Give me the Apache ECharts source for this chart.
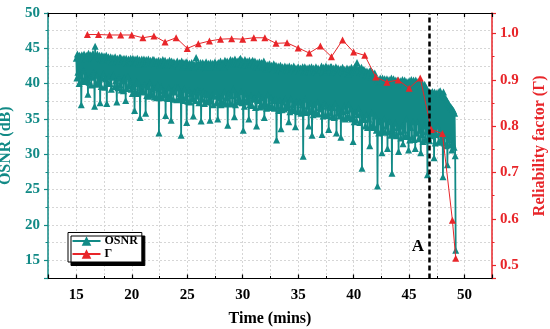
<!DOCTYPE html>
<html><head><meta charset="utf-8">
<script src="https://cdn.jsdelivr.net/npm/echarts@6/dist/echarts.min.js"></script>
<style>html,body{margin:0;padding:0;background:#fff}#c{width:550px;height:329px}</style>
</head><body><div id="c"></div>
<script>
// ---- data ----
const seriesNames = ['OSNR', 'Γ'];
const xTicks = [15, 20, 25, 30, 35, 40, 45, 50];
const osnrTicks = [15, 20, 25, 30, 35, 40, 45, 50];
const gammaTicks = [0.5, 0.6, 0.7, 0.8, 0.9, 1.0];
const markerTime = 46.8;          // dashed line "A"
const markerLabel = 'A';
const markerLabelPos = [45.8, 16.9];

// OSNR (dB): one reading every 0.05 min starting at 15.00 min (20 readings per row = 1 minute)
const osnrStartTime = 15.0;
const osnrSampleStep = 0.05;
const osnrValues = [
43.6,40.8,44.2,41.6,43.9,40.0,44.0,41.2,43.4,37.0,44.1,40.4,43.7,41.8,44.2,40.3,43.5,41.0,44.0,40.6,
43.9,38.5,44.3,40.2,43.6,41.0,44.1,39.8,43.8,40.9,44.3,41.5,43.5,36.8,45.3,40.0,43.9,41.2,44.2,39.9,
43.7,40.6,44.0,37.3,43.4,39.6,44.0,40.8,43.3,41.4,43.9,39.5,43.6,40.7,44.0,37.2,43.5,40.1,43.8,41.0,
43.4,40.0,43.8,39.2,43.1,40.9,43.7,41.2,43.5,39.6,43.8,40.4,43.2,37.4,43.6,39.4,43.0,40.8,43.7,39.8,
43.7,39.1,43.0,40.4,43.5,39.0,43.6,40.8,43.2,37.6,43.6,39.3,42.9,41.0,43.5,39.7,43.1,40.2,43.6,39.2,
43.2,38.6,43.6,39.6,42.9,36.2,43.5,38.8,43.1,40.2,43.6,38.6,42.8,40.0,43.4,35.2,43.0,39.4,43.5,38.9,
43.0,38.8,43.5,39.8,42.8,35.8,43.4,38.3,42.9,39.6,43.5,38.2,42.7,40.1,43.3,38.6,42.9,39.2,43.4,38.4,
43.4,38.1,42.7,39.4,43.2,38.0,42.9,39.8,43.3,33.0,42.6,38.3,43.2,39.5,42.8,38.0,43.4,39.0,42.9,38.4,
43.3,35.5,42.6,38.6,43.1,37.9,42.8,39.4,43.3,38.2,42.7,34.8,43.2,39.0,42.6,37.8,43.1,38.8,42.9,39.6,
42.8,37.7,43.2,39.4,42.5,37.8,43.0,38.6,42.9,32.7,43.2,38.2,42.4,37.6,43.0,39.2,42.6,38.0,43.1,34.5,
43.0,37.5,42.3,39.0,42.9,37.4,42.6,38.6,43.0,37.9,42.4,35.4,42.8,38.8,42.5,37.6,43.7,38.2,42.7,39.0,
42.9,37.3,42.2,38.8,43.0,34.7,42.5,37.8,43.0,38.8,42.3,37.2,42.8,38.5,43.1,37.6,42.4,38.4,42.9,37.4,
42.4,34.8,43.0,37.6,42.6,38.4,42.9,37.0,42.5,38.2,43.1,38.9,42.4,37.3,42.8,35.0,43.0,38.0,42.6,37.2,
43.2,37.0,42.6,38.2,43.0,37.4,42.4,38.8,43.3,37.1,42.7,38.0,43.2,34.1,42.7,38.6,43.1,37.2,43.4,38.3,
42.7,37.1,43.3,39.2,42.8,35.3,43.5,37.0,42.9,38.4,43.2,37.4,42.9,38.0,43.4,37.6,43.6,38.9,42.8,37.3,
43.2,33.4,42.6,36.8,43.4,38.5,42.7,37.4,43.2,38.0,42.6,35.0,43.3,37.0,42.8,38.2,43.1,36.9,43.3,37.8,
42.7,38.0,43.2,36.6,42.4,34.0,43.0,37.6,42.3,38.4,43.1,36.7,42.6,37.2,43.0,38.0,42.5,36.8,43.2,35.2,
42.8,37.2,42.1,36.5,42.7,38.4,42.3,37.0,42.8,36.6,42.2,38.0,42.6,36.8,42.0,37.6,42.8,36.5,42.4,37.9,
42.6,32.0,41.9,36.8,42.5,36.2,42.0,37.6,42.6,33.6,41.8,36.3,42.4,37.4,42.0,36.4,42.5,37.8,41.9,36.6,
42.4,37.2,41.9,34.6,42.5,36.0,41.8,37.8,42.3,36.4,42.0,37.0,42.5,36.2,41.7,33.9,42.2,37.4,42.0,36.1,
42.4,36.0,41.7,37.4,42.2,35.8,41.9,37.0,42.4,29.7,41.6,36.2,42.4,37.8,41.8,35.9,42.2,36.8,41.7,34.0,
42.3,36.0,41.8,37.2,42.4,32.7,41.6,35.6,42.2,37.0,41.7,36.0,42.4,35.8,41.5,37.4,42.2,35.7,41.9,36.6,
42.0,36.4,42.5,32.8,41.7,35.4,42.3,37.2,41.6,35.6,42.5,36.8,41.8,35.5,42.3,33.5,41.9,36.6,42.4,35.8,
42.4,35.3,41.6,36.6,42.2,35.2,41.8,37.2,42.4,33.0,41.5,35.8,42.2,36.4,41.8,35.4,42.1,32.4,41.7,36.0,
42.3,35.1,41.5,36.8,42.0,35.0,41.7,36.2,42.2,35.4,41.4,37.0,42.1,35.2,41.6,36.4,42.3,35.0,41.8,31.8,
41.7,34.6,42.4,36.0,41.8,34.8,43.0,35.6,41.9,36.4,42.2,34.5,41.6,35.8,42.3,28.0,41.5,35.2,42.0,34.9,
41.9,34.0,41.2,35.6,41.8,33.8,41.0,35.0,41.7,31.2,41.9,33.9,40.9,35.8,41.6,34.2,41.0,33.8,41.5,35.4,
40.9,33.4,40.3,25.5,40.6,33.0,40.2,34.6,40.8,33.2,40.4,30.2,40.8,33.4,39.9,35.0,40.7,33.1,40.2,34.0,
40.7,30.8,40.1,33.2,40.6,34.6,39.9,32.7,40.8,27.3,40.2,33.4,40.7,32.8,39.8,34.4,40.5,32.6,40.0,33.8,
40.5,30.4,39.9,33.2,40.4,32.3,40.0,34.0,40.6,31.5,39.8,33.4,40.5,32.5,39.7,35.0,40.3,32.6,40.0,30.6,
40.4,32.0,39.8,33.8,40.6,32.4,39.9,34.6,40.5,32.1,39.7,30.8,40.5,33.0,39.8,34.6,40.3,32.2,39.9,33.4,
40.2,30.2,39.6,32.8,40.0,31.8,39.4,34.0,39.9,32.0,39.5,33.2,39.2,27.1,39.0,32.4,38.9,31.9,38.6,33.0,
38.7,32.6,38.9,33.6,38.4,29.5,38.8,31.6,38.3,32.8,38.7,34.0,38.2,31.7,38.9,33.0,39.0,31.8,38.5,32.4,
38.5,26.8,38.8,31.6,38.1,32.6,37.9,31.2,37.6,28.5,37.3,32.0,37.0,31.3,36.8,32.4,36.6,30.6,36.4,31.4,
36.2,31.0,35.8,29.8,16.4
];

// Reliability factor Γ vs time (mins)
const gammaTime = [16,17,18,19,20,21,22,23,24,25,26,27,28,29,30,31,32,33,34,35,36,37,38,39,40,41,42,43,44,45,46,47,48,48.9,49.2];
const gammaValue = [0.998,0.998,0.997,0.997,0.997,0.991,0.995,0.982,0.991,0.968,0.978,0.984,0.988,0.989,0.988,0.991,0.991,0.979,0.980,0.969,0.958,0.973,0.950,0.986,0.960,0.953,0.906,0.895,0.900,0.882,0.904,0.793,0.784,0.597,0.515];

// ---- styling ----
const TEAL = '#128a86';
const RED = '#e8262a';
const FONT = '"Liberation Serif", "Times New Roman", serif';
const gridLine = { show: true, lineStyle: { color: '#d6d6d6', type: [2, 2], width: 1 } };

const osnr = osnrValues.map((v, i) => [Math.round((osnrStartTime + i * osnrSampleStep) * 100) / 100, v]);
const gamma = gammaTime.map((t, i) => [t, gammaValue[i]]);

const chart = echarts.init(document.getElementById('c'), null, { renderer: 'canvas' });
chart.setOption({
  animation: false,
  backgroundColor: '#fff',
  grid: { left: 48, right: 58, top: 13, bottom: 50.5, containLabel: false, outerBoundsMode: 'none' },
  legend: {
    data: seriesNames,
    orient: 'vertical',
    left: 68, top: 232.5,
    itemWidth: 28, itemHeight: 12, itemGap: 1,
    padding: [2.5, 4, 2, 3.5],
    backgroundColor: '#fff',
    borderColor: '#000', borderWidth: 1, borderRadius: 0,
    shadowColor: '#000', shadowBlur: 0, shadowOffsetX: 3, shadowOffsetY: 3.5,
    textStyle: { fontFamily: FONT, fontWeight: 'bold', fontSize: 12, color: '#000', padding: [0, 0, 0, -1] }
  },
  xAxis: [{
    type: 'value', min: 12.45, max: 52.47, minInterval: 5, maxInterval: 5,
    name: 'Time (mins)', nameLocation: 'middle', nameGap: 32,
    nameTextStyle: { fontFamily: FONT, fontWeight: 'bold', fontSize: 16, color: '#000' },
    axisLine: { show: true, onZero: false, lineStyle: { color: '#000', width: 1.2 } },
    axisTick: { show: true, inside: true, length: 4, lineStyle: { color: '#000', width: 1.2 } },
    minorTick: { show: true, splitNumber: 2, length: 2.5, lineStyle: { color: '#000', width: 1 } },
    axisLabel: { margin: 9, fontFamily: FONT, fontWeight: 'bold', fontSize: 15, color: '#000',
      showMinLabel: false, showMaxLabel: false,
      formatter: v => xTicks.includes(v) ? String(v) : '' },
    splitLine: gridLine,
    minorSplitLine: gridLine
  }, {
    type: 'value', position: 'top', min: 12.45, max: 52.47, minInterval: 5, maxInterval: 5,
    axisLine: { show: true, onZero: false, lineStyle: { color: '#000', width: 1.2 } },
    axisTick: { show: true, inside: true, length: 4, lineStyle: { color: '#000', width: 1.2 } },
    minorTick: { show: true, splitNumber: 2, length: 2.5, lineStyle: { color: '#000', width: 1 } },
    axisLabel: { show: false }, splitLine: { show: false }
  }],
  yAxis: [{
    type: 'value', position: 'left', min: 12.4, max: 50, minInterval: 5, maxInterval: 5,
    name: 'OSNR (dB)', nameLocation: 'middle', nameGap: 28, nameRotate: 90,
    nameTextStyle: { fontFamily: FONT, fontWeight: 'bold', fontSize: 16, color: TEAL },
    axisLine: { show: true, onZero: false, lineStyle: { color: TEAL, width: 1.5 } },
    axisTick: { show: true, inside: false, length: 4, lineStyle: { color: TEAL, width: 1.2 } },
    minorTick: { show: true, splitNumber: 2, length: 2.5, lineStyle: { color: TEAL, width: 1 } },
    axisLabel: { margin: 8, fontFamily: FONT, fontWeight: 'bold', fontSize: 15, color: TEAL,
      showMinLabel: false,
      formatter: v => osnrTicks.includes(v) ? String(v) : '' },
    splitLine: gridLine,
    minorSplitLine: gridLine
  }, {
    type: 'value', position: 'right', min: 0.471, max: 1.0445, minInterval: 0.1, maxInterval: 0.1,
    name: 'Reliability factor (Γ)', nameLocation: 'middle', nameGap: 40, nameRotate: 90,
    nameTextStyle: { fontFamily: FONT, fontWeight: 'bold', fontSize: 16, color: RED },
    axisLine: { show: true, onZero: false, lineStyle: { color: RED, width: 1.5 } },
    axisTick: { show: true, inside: false, length: 4, lineStyle: { color: RED, width: 1.2 } },
    minorTick: { show: true, splitNumber: 2, length: 2.5, lineStyle: { color: RED, width: 1 } },
    axisLabel: { margin: 8, fontFamily: FONT, fontWeight: 'bold', fontSize: 15, color: RED,
      showMinLabel: false, showMaxLabel: false,
      formatter: v => gammaTicks.some(g => Math.abs(g - v) < 1e-6) ? v.toFixed(1) : '' },
    splitLine: { show: false }
  }],
  series: [{
    name: seriesNames[0], type: 'line', xAxisIndex: 0, yAxisIndex: 0,
    data: osnr, symbol: 'triangle', symbolSize: 7, showAllSymbol: true, sampling: 'none',
    lineStyle: { color: TEAL, width: 1.8 }, itemStyle: { color: TEAL },
    silent: true, z: 2,
    markLine: {
      silent: true, symbol: ['none', 'none'],
      lineStyle: { color: '#000', type: [5, 3], width: 2.5 },
      label: { show: false },
      data: [{ xAxis: markerTime }]
    },
    markPoint: {
      silent: true, symbol: 'circle', symbolSize: 1,
      itemStyle: { color: 'rgba(0,0,0,0)' },
      label: { show: true, position: 'inside', formatter: markerLabel,
        fontFamily: FONT, fontWeight: 'bold', fontSize: 17, color: '#000' },
      data: [{ coord: markerLabelPos }]
    }
  }, {
    name: seriesNames[1], type: 'line', xAxisIndex: 0, yAxisIndex: 1,
    data: gamma, symbol: 'triangle', symbolSize: 7,
    lineStyle: { color: RED, width: 1 }, itemStyle: { color: RED },
    silent: true, z: 3
  }]
});
</script>
</body></html>
